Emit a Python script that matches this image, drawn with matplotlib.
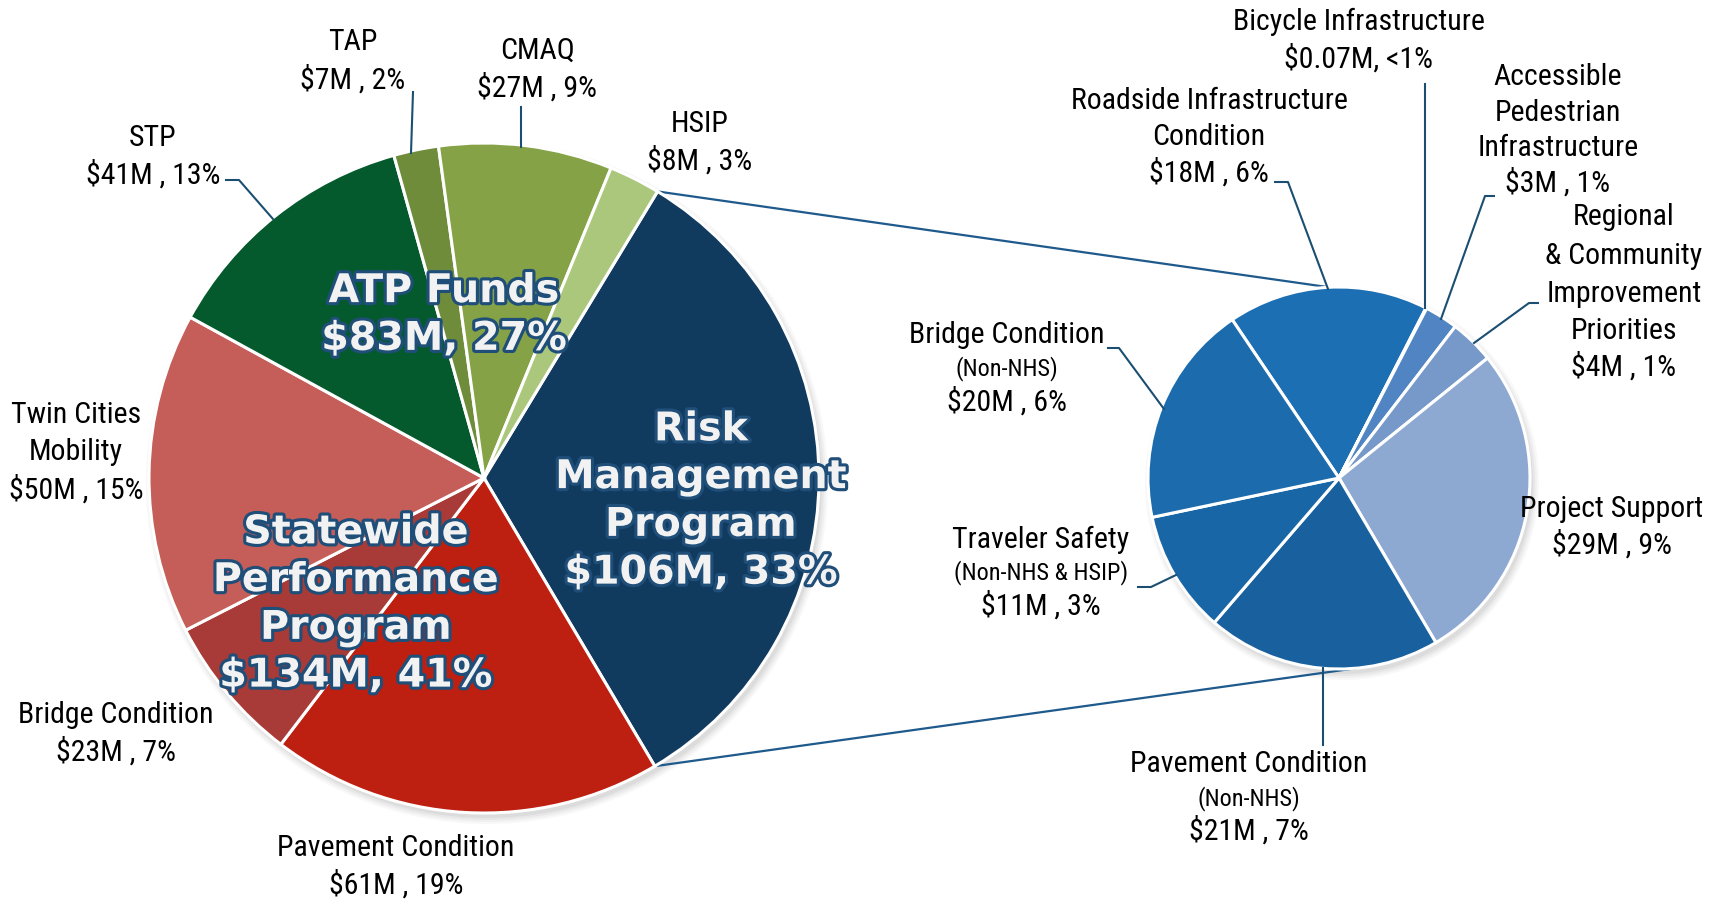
import numpy as np
import matplotlib.pyplot as plt
import matplotlib.patheffects as pe
from matplotlib import font_manager
from matplotlib.patches import Circle

W, H = 1718, 901

# Main pie, clockwise starting at the Risk Management wedge
main_names = ["Risk Management Program", "Pavement Condition", "Bridge Condition",
              "Twin Cities Mobility", "STP", "TAP", "CMAQ", "HSIP"]
main_values = [106, 61, 23, 50, 41, 7, 27, 8]
main_colors = ["#113A5F", "#BD1F10", "#A83B37", "#C55E59",
               "#045A2C", "#6F8C3B", "#85A346", "#ABC77C"]

# Breakdown of Risk Management Program, clockwise
detail_names = ["Roadside Infrastructure Condition", "Bicycle Infrastructure",
                "Accessible Pedestrian Infrastructure",
                "Regional & Community Improvement Priorities", "Project Support",
                "Pavement Condition (Non-NHS)", "Traveler Safety (Non-NHS & HSIP)",
                "Bridge Condition (Non-NHS)"]
detail_values = [18, 0.07, 3, 4, 29, 21, 11, 20]
detail_colors = ["#1D6FB4", "#1D6FB4", "#5184C2", "#7699C9",
                 "#8EA9D1", "#18609E", "#1966A6", "#1C6BAD"]

group_labels = ["ATP Funds\n$83M, 27%",
                "Statewide\nPerformance\nProgram\n$134M, 41%",
                "Risk\nManagement\nProgram\n$106M, 33%"]

# narrow sans for the labels, with fallbacks (size tuned per font)
installed = {f.name for f in font_manager.fontManager.ttflist}
font_choices = [("Liberation Sans Narrow", 22.5, 18.5), ("Arial Narrow", 22.5, 18.5),
                ("Roboto Condensed", 21.5, 17.5), ("Archivo Narrow", 21.5, 17.5),
                ("PT Sans Narrow", 23, 19), ("Liberation Sans", 19, 15.5)]
LABEL_FONT, BIG, SMALL = next(c for c in font_choices if c[0] in installed)

# geometry in image pixels (y measured from top)
MAIN_C, MAIN_R, MAIN_START = (484, 478), 335, 58.8
DET_C, DET_R, DET_START = (1339, 478), 191, 124

# (x centre, [(text, y, size), ...])
main_text = [
    (353, [("TAP", 42, BIG), ("$7M , 2%", 80, BIG)]),
    (537, [("CMAQ", 51, BIG), ("$27M , 9%", 88, BIG)]),
    (700, [("HSIP", 124, BIG), ("$8M , 3%", 161, BIG)]),
    (153, [("STP", 138, BIG), ("$41M , 13%", 175, BIG)]),
    (76, [("Twin Cities", 415, BIG), ("Mobility", 452, BIG), ("$50M , 15%", 490, BIG)]),
    (116, [("Bridge Condition", 715, BIG), ("$23M , 7%", 752, BIG)]),
    (396, [("Pavement Condition", 848, BIG), ("$61M , 19%", 885, BIG)]),
]
detail_text = [
    (1359, [("Bicycle Infrastructure", 22, BIG), ("$0.07M, <1%", 59, BIG)]),
    (1209, [("Roadside Infrastructure", 101, BIG), ("Condition", 137, BIG),
            ("$18M , 6%", 173, BIG)]),
    (1558, [("Accessible", 77, BIG), ("Pedestrian", 113, BIG),
            ("Infrastructure", 148, BIG), ("$3M , 1%", 183, BIG)]),
    (1624, [("Regional", 217, BIG), ("& Community", 256, BIG), ("Improvement", 294, BIG),
            ("Priorities", 331, BIG), ("$4M , 1%", 367, BIG)]),
    (1007, [("Bridge Condition", 335, BIG), ("(Non-NHS)", 369, SMALL),
            ("$20M , 6%", 402, BIG)]),
    (1041, [("Traveler Safety", 540, BIG), ("(Non-NHS & HSIP)", 573, SMALL),
            ("$11M , 3%", 606, BIG)]),
    (1612, [("Project Support", 509, BIG), ("$29M , 9%", 545, BIG)]),
    (1249, [("Pavement Condition", 764, BIG), ("(Non-NHS)", 799, SMALL),
            ("$21M , 7%", 831, BIG)]),
]
leaders = [
    [(413, 92), (411, 153)],
    [(521, 107), (521, 147)],
    [(226, 180), (239, 180), (273, 219)],
    [(1425, 84), (1425, 308)],
    [(1275, 182), (1288, 182), (1328, 289)],
    [(1494, 196), (1485, 196), (1441, 319)],
    [(1538, 303), (1529, 303), (1474, 343)],
    [(1108, 348), (1119, 348), (1164, 409)],
    [(1138, 587), (1151, 587), (1176, 575)],
    [(1323, 668), (1323, 745)],
]
group_pos = [(444, 315), (356, 604), (701, 501)]


def up(y):
    return H - y


fig = plt.figure(figsize=(W / 100, H / 100), dpi=100)
ax = fig.add_axes([0, 0, 1, 1])


def shadow(c, r):
    for k, a in enumerate([0.05, 0.06, 0.08, 0.10]):
        ax.add_patch(Circle((c[0] + 3, up(c[1]) - 5), r + 6 - 2 * k,
                            facecolor="#7f7f7f", edgecolor="none", alpha=a, zorder=1))


shadow(MAIN_C, MAIN_R)
shadow(DET_C, DET_R)

# connector lines from the Risk wedge to the breakdown pie
total = sum(main_values)
risk_span = main_values[0] / total * 360


def on_circle(c, r, ang):
    return (c[0] + r * np.cos(np.radians(ang)), up(c[1]) + r * np.sin(np.radians(ang)))


p_top = on_circle(MAIN_C, MAIN_R, MAIN_START)
p_bot = on_circle(MAIN_C, MAIN_R, MAIN_START - risk_span)
q_top = on_circle(DET_C, DET_R, 93)
q_bot = on_circle(DET_C, DET_R, -85)
for p, q in [(p_top, q_top), (p_bot, q_bot)]:
    ax.plot([p[0], q[0]], [p[1], q[1]], color="#1F5A8C", lw=1.6, zorder=2)

wprops = dict(edgecolor="white", linewidth=2.2, zorder=3)
ax.pie(main_values, colors=main_colors, startangle=MAIN_START, counterclock=False,
       radius=MAIN_R, center=(MAIN_C[0], up(MAIN_C[1])), wedgeprops=wprops, frame=True)
ax.pie(detail_values, colors=detail_colors, startangle=DET_START, counterclock=False,
       radius=DET_R, center=(DET_C[0], up(DET_C[1])), wedgeprops=wprops, frame=True)

for pts in leaders:
    xs, ys = zip(*pts)
    ax.plot(xs, [up(y) for y in ys], color="#1B4F72", lw=1.5, zorder=4)

for x, lines in main_text + detail_text:
    for txt, y, size in lines:
        ax.text(x, up(y), txt, ha="center", va="center", fontsize=size,
                family=[LABEL_FONT, "DejaVu Sans"], color="black", zorder=5)

stroke = [pe.withStroke(linewidth=4.5, foreground="#1F4E79")]
for txt, (x, y) in zip(group_labels, group_pos):
    ax.text(x, up(y), txt, ha="center", va="center", fontsize=28.5,
            fontweight="bold", family="DejaVu Sans", color="#F2F2F2",
            linespacing=1.25, path_effects=stroke, zorder=6)

ax.set_xlim(0, W)
ax.set_ylim(0, H)
ax.set_aspect("auto")
ax.axis("off")

fig.savefig("out.png", dpi=100, facecolor="white")
